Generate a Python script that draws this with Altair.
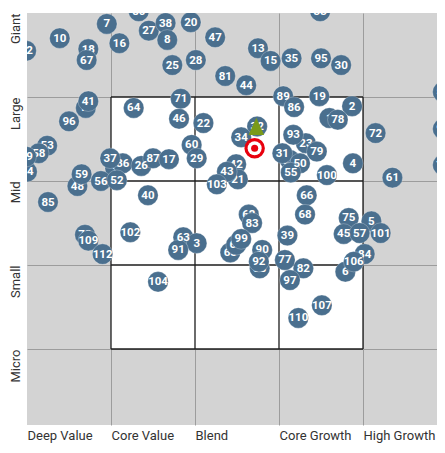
import altair as alt
import pandas as pd

style_labels = ["Deep Value", "Core Value", "Blend", "Core Growth", "High Growth"]
size_labels = ["Micro", "Small", "Mid", "Large", "Giant"]

fund_ids = [12, 10, 7, 16, 18, 67, 80, 27, 38, 8, 20, 47, 25, 28, 81, 44, 13, 15, 35, 33,
            95, 30, 54, 11, 41, 96, 64, 71, 46, 22, 32, 34, 89, 86, 19, 2, 1, 78, 72, 98,
            93, 23, 79, 24, 31, 50, 55, 4, 76, 100, 61, 53, 58, 49, 74, 9, 37, 36, 26, 87,
            17, 60, 29, 59, 48, 56, 52, 85, 40, 42, 43, 21, 103, 66, 68, 75, 5, 45, 57, 101,
            84, 106, 6, 82, 73, 109, 112, 102, 63, 3, 91, 62, 83, 69, 65, 99, 90, 88, 92, 39,
            77, 97, 104, 107, 110]
style_score = [-0.01, 0.39, 0.95, 1.10, 0.73, 0.71, 1.33, 1.45, 1.65, 1.67, 1.95, 2.24, 1.73, 2.01, 2.36, 2.61, 2.75, 2.90, 3.15, 3.49,
               3.50, 3.74, 4.95, 0.70, 0.73, 0.50, 1.27, 1.83, 1.81, 2.10, 2.74, 2.55, 3.05, 3.18, 3.48, 3.87, 3.60, 3.70, 4.15, 4.95,
               3.17, 3.32, 3.45, 3.13, 3.04, 3.25, 3.14, 3.88, 4.95, 3.57, 4.35, 0.24, 0.14, -0.01, 0.00, 1.05, 0.99, 1.14, 1.36, 1.50,
               1.69, 1.96, 2.02, 0.65, 0.60, 0.88, 1.07, 0.25, 1.44, 2.49, 2.38, 2.51, 2.26, 3.33, 3.31, 3.83, 4.10, 3.77, 3.96, 4.21,
               4.02, 3.89, 3.79, 3.29, 0.69, 0.73, 0.90, 1.23, 1.86, 2.02, 1.80, 2.64, 2.68, 2.49, 2.42, 2.55, 2.80, 2.77, 2.76, 3.10,
               3.07, 3.13, 1.56, 3.51, 3.23]
size_score = [4.55, 4.70, 4.87, 4.64, 4.57, 4.44, 5.02, 4.79, 4.88, 4.68, 4.89, 4.71, 4.38, 4.44, 4.25, 4.14, 4.58, 4.43, 4.46, 5.02,
              4.46, 4.38, 4.06, 3.87, 3.95, 3.71, 3.87, 3.98, 3.74, 3.69, 3.65, 3.52, 4.01, 3.88, 4.01, 3.89, 3.75, 3.73, 3.57, 3.62,
              3.55, 3.45, 3.35, 3.25, 3.33, 3.21, 3.10, 3.21, 3.19, 3.07, 3.04, 3.42, 3.33, 3.29, 3.11, 3.15, 3.27, 3.21, 3.18, 3.27,
              3.26, 3.43, 3.27, 3.08, 2.94, 3.00, 3.01, 2.75, 2.83, 3.20, 3.11, 3.02, 2.96, 2.83, 2.60, 2.56, 2.52, 2.37, 2.38, 2.38,
              2.13, 2.04, 1.92, 1.96, 2.36, 2.29, 2.13, 2.39, 2.33, 2.26, 2.18, 2.60, 2.50, 2.24, 2.15, 2.31, 2.18, 1.96, 2.04, 2.35,
              2.06, 1.82, 1.80, 1.52, 1.37]

# drawing order: ids drawn underneath / on top of the rest
back_ids = [11, 18, 9, 1, 32, 42, 21, 24, 62, 65, 88, 73, 90, 53, 48, 23, 84, 6]
top_ids = [49, 37, 99]

fund_style = [2.73]
fund_size = [3.64]
target_style = [2.71]
target_size = [3.39]

grid_vals = [1, 2, 3, 4]

FONT = "Roboto"
BLUE = "#4a6f8e"
CELL = 84  # pixels per style/size cell
W = 410
H = 412

df = pd.DataFrame({"id": fund_ids, "style": style_score, "size": size_score})
df["label"] = df["id"].astype(str)
df["tier"] = [0 if i in back_ids else (2 if i in top_ids else 1) for i in fund_ids]

x_expr = "[" + ",".join("'%s'" % s for s in style_labels) + ", ''][datum.value]"
y_expr = "['', " + ",".join("'%s'" % s for s in size_labels) + "][datum.value]"

xscale = alt.Scale(domain=[0, W / CELL], nice=False, zero=False)
yscale = alt.Scale(domain=[5 - H / CELL, 5], nice=False, zero=False)

xaxis = alt.Axis(values=[0, 1, 2, 3, 4], labelExpr=x_expr, labelAlign="left", labelBaseline="top",
                 labelPadding=4, labelFlush=False, labelOverlap=False, grid=True,
                 gridColor="#9c9c9c", gridWidth=1,
                 gridOpacity={"condition": {"test": "datum.value == 0", "value": 0}, "value": 1},
                 title="")
yaxis = alt.Axis(values=[1, 2, 3, 4, 5], labelExpr=y_expr, labelAngle=270, labelAlign="right",
                 labelBaseline="alphabetic", labelPadding=8, labelFlush=False, labelOverlap=False,
                 grid=True, gridColor="#9c9c9c", gridWidth=1,
                 gridOpacity={"condition": {"test": "datum.value == 5", "value": 0}, "value": 1},
                 title="")

box_df = pd.DataFrame({"x0": [1], "x1": [4], "y0": [1], "y1": [4]})
box = alt.Chart(box_df).mark_rect(fill="white").encode(
    x=alt.X("x0:Q", scale=xscale, axis=xaxis), x2="x1:Q",
    y=alt.Y("y0:Q", scale=yscale, axis=yaxis), y2="y1:Q")

lines_df = pd.DataFrame({"v": grid_vals})
vrules = alt.Chart(lines_df).mark_rule(color="#1c1c1c", strokeWidth=1.3).encode(
    x=alt.X("v:Q", scale=xscale), y=alt.datum(1), y2=alt.datum(4))
hrules = alt.Chart(lines_df).mark_rule(color="#1c1c1c", strokeWidth=1.3).encode(
    y=alt.Y("v:Q", scale=yscale), x=alt.datum(1), x2=alt.datum(4))

base = alt.Chart(df).encode(x=alt.X("style:Q", scale=xscale), y=alt.Y("size:Q", scale=yscale))
layers = [box, vrules, hrules]
for t in [0, 1, 2]:
    sub = base.transform_filter(alt.datum.tier == t)
    layers.append(sub.mark_circle(size=420, color=BLUE, opacity=1, stroke="white",
                                  strokeWidth=0.5, strokeOpacity=0.5, clip=True))
    layers.append(sub.mark_text(font=FONT, fontWeight="bold", fontSize=11.5, color="white",
                                align="center", baseline="middle", dy=0.5, clip=True).encode(text="label:N"))

tri_df = pd.DataFrame({"style": fund_style, "size": fund_size})
tri = alt.Chart(tri_df).mark_point(shape="M0,-1.1L-0.9,0.9L0.9,0.9Z", filled=True, size=300,
                                   color="#7a9a1a", opacity=1, strokeWidth=0).encode(
    x=alt.X("style:Q", scale=xscale), y=alt.Y("size:Q", scale=yscale))
tg_df = pd.DataFrame({"style": target_style, "size": target_size})
tg_base = alt.Chart(tg_df).encode(x=alt.X("style:Q", scale=xscale), y=alt.Y("size:Q", scale=yscale))
tg1 = tg_base.mark_circle(size=420, color="#e8000e", opacity=1)
tg2 = tg_base.mark_circle(size=196, color="white", opacity=1)
tg3 = tg_base.mark_circle(size=50, color="#e8000e", opacity=1)
layers += [tri, tg1, tg2, tg3]

chart = alt.layer(*layers).properties(
    width=W, height=H,
    autosize=alt.AutoSizeParams(type="none"),
    padding={"left": 19, "top": 5, "right": 0, "bottom": 20},
).configure_view(fill="#d3d3d3", strokeWidth=0).configure_axis(
    domain=False, ticks=False, labelFont=FONT, labelFontSize=13, labelColor="#333333")

chart.save("out.html", embed_options={"renderer": "svg", "actions": False})
